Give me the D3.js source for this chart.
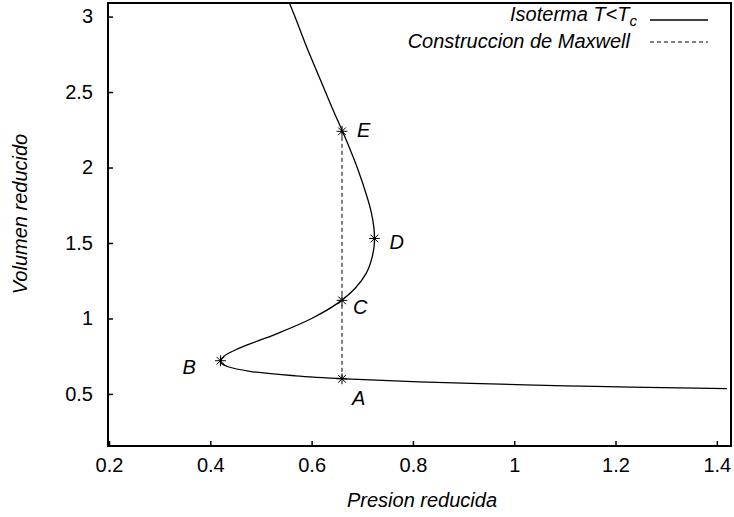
<!DOCTYPE html>
<html>
<head>
<meta charset="utf-8">
<script src="https://cdn.jsdelivr.net/npm/d3@7"></script>
<style>
  html, body { margin: 0; padding: 0; background: #fff; }
  svg { display: block; font-family: "Liberation Sans", Arial, sans-serif; }
</style>
</head>
<body>
<svg id="chart" width="734" height="517"></svg>
<script>
// Isoterma de van der Waals por debajo de la temperatura critica
// (volumen reducido frente a presion reducida)
const volumen = [0.535, 0.54, 0.55, 0.56, 0.58, 0.60, 0.62, 0.65, 0.68, 0.70, 0.72,
                 0.75, 0.80, 0.85, 0.90, 1.00, 1.10, 1.20, 1.30, 1.40, 1.50, 1.60,
                 1.70, 1.80, 2.00, 2.20, 2.40, 2.60, 2.80, 3.00, 3.10];
const presion = [1.420, 1.325, 1.160, 1.022, 0.812, 0.667, 0.568, 0.478, 0.435, 0.423, 0.420,
                 0.427, 0.455, 0.493, 0.532, 0.600, 0.651, 0.686, 0.708, 0.719, 0.724, 0.723,
                 0.718, 0.710, 0.690, 0.666, 0.640, 0.615, 0.590, 0.567, 0.555];

// Puntos senalados sobre la isoterma
const puntosNombre  = ["A", "B", "C", "D", "E"];
const puntosPresion = [0.660, 0.420, 0.660, 0.724, 0.660];
const puntosVolumen = [0.600, 0.720, 1.120, 1.530, 2.240];

// Presion de la construccion de Maxwell (recta entre A y E)
const presionMaxwell = 0.66;
const maxwellVolumen = [0.600, 2.240];

const xTicks = [0.2, 0.4, 0.6, 0.8, 1, 1.2, 1.4];
const yTicks = [0.5, 1, 1.5, 2, 2.5, 3];
const leyenda = ["Isoterma T<T", "Construccion de Maxwell"];

const svg = d3.select("#chart");
const L = 108, R = 731, T = 3, B = 446;

const x = d3.scaleLinear().domain([0.198, 1.428]).range([L, R]);
const y = d3.scaleLinear().domain([0.155, 3.09]).range([B, T]);

svg.append("defs").append("clipPath").attr("id", "area")
  .append("rect").attr("x", L).attr("y", T).attr("width", R - L).attr("height", B - T);

// Ejes con marcas interiores
const fmt = d => String(d);
svg.append("g").attr("transform", `translate(0,${B})`)
  .call(d3.axisBottom(x).tickValues(xTicks).tickFormat(fmt).tickSize(-5).tickPadding(12))
  .call(g => g.select(".domain").remove())
  .call(g => g.selectAll("line").attr("stroke", "#000").attr("stroke-width", 1.5))
  .call(g => g.selectAll("text").attr("font-size", 20).attr("fill", "#000")
                 .attr("font-family", "Liberation Sans, Arial, sans-serif"));

svg.append("g").attr("transform", `translate(${L},0)`)
  .call(d3.axisLeft(y).tickValues(yTicks).tickFormat(fmt).tickSize(-5).tickPadding(15))
  .call(g => g.select(".domain").remove())
  .call(g => g.selectAll("line").attr("stroke", "#000").attr("stroke-width", 1.5))
  .call(g => g.selectAll("text").attr("font-size", 20).attr("fill", "#000")
                 .attr("font-family", "Liberation Sans, Arial, sans-serif"));

// Marco
svg.append("rect").attr("x", L).attr("y", T).attr("width", R - L).attr("height", B - T)
  .attr("fill", "none").attr("stroke", "#000").attr("stroke-width", 2);

const datos = volumen.map((v, i) => ({ v, p: presion[i] }));
const linea = d3.line().x(d => x(d.p)).y(d => y(d.v)).curve(d3.curveCatmullRom.alpha(0.5));

const plot = svg.append("g").attr("clip-path", "url(#area)");

plot.append("path").datum(datos).attr("d", linea)
  .attr("fill", "none").attr("stroke", "#000").attr("stroke-width", 1.3);

plot.append("line")
  .attr("x1", x(presionMaxwell)).attr("x2", x(presionMaxwell))
  .attr("y1", y(maxwellVolumen[0])).attr("y2", y(maxwellVolumen[1]))
  .attr("stroke", "#000").attr("stroke-width", 1).attr("stroke-dasharray", "4,3");

// Marcadores tipo asterisco (cruz + aspa)
const puntos = puntosNombre.map((n, i) => ({ n, p: puntosPresion[i], v: puntosVolumen[i] }));
const cruz = d3.symbol(d3.symbolPlus, 40)();
const aspa = d3.symbol(d3.symbolTimes, 40)();
const gp = svg.append("g").selectAll("g").data(puntos).join("g")
  .attr("transform", d => `translate(${x(d.p)},${y(d.v)})`);
gp.append("path").attr("d", cruz).attr("fill", "none").attr("stroke", "#000").attr("stroke-width", 1);
gp.append("path").attr("d", aspa).attr("fill", "none").attr("stroke", "#000").attr("stroke-width", 1);

// Etiquetas de los puntos
const desplaz = { A: [10, 26], B: [-38, 13], C: [11, 14], D: [15, 11], E: [15, 6] };
svg.append("g").selectAll("text").data(puntos).join("text")
  .attr("x", d => x(d.p) + desplaz[d.n][0])
  .attr("y", d => y(d.v) + desplaz[d.n][1])
  .attr("font-size", 20).attr("font-style", "italic")
  .text(d => d.n);

// Titulos de los ejes
svg.append("text").attr("x", 422).attr("y", 507).attr("text-anchor", "middle")
  .attr("font-size", 20).attr("font-style", "italic").text("Presion reducida");
svg.append("text").attr("transform", "translate(27,214) rotate(-90)").attr("text-anchor", "middle")
  .attr("font-size", 20).attr("font-style", "italic").text("Volumen reducido");

// Leyenda
const ley = svg.append("g");
const t1 = ley.append("text").attr("x", 637).attr("y", 21).attr("text-anchor", "end")
  .attr("font-size", 20).attr("font-style", "italic");
t1.append("tspan").text(leyenda[0]);
t1.append("tspan").attr("font-size", 15).attr("dy", 5).text("c");
ley.append("line").attr("x1", 650).attr("x2", 708).attr("y1", 20).attr("y2", 20)
  .attr("stroke", "#000").attr("stroke-width", 1.3);
ley.append("text").attr("x", 630).attr("y", 48).attr("text-anchor", "end")
  .attr("font-size", 20).attr("font-style", "italic").text(leyenda[1]);
ley.append("line").attr("x1", 650).attr("x2", 708).attr("y1", 42).attr("y2", 42)
  .attr("stroke", "#000").attr("stroke-width", 1).attr("stroke-dasharray", "4,3");
</script>
</body>
</html>
